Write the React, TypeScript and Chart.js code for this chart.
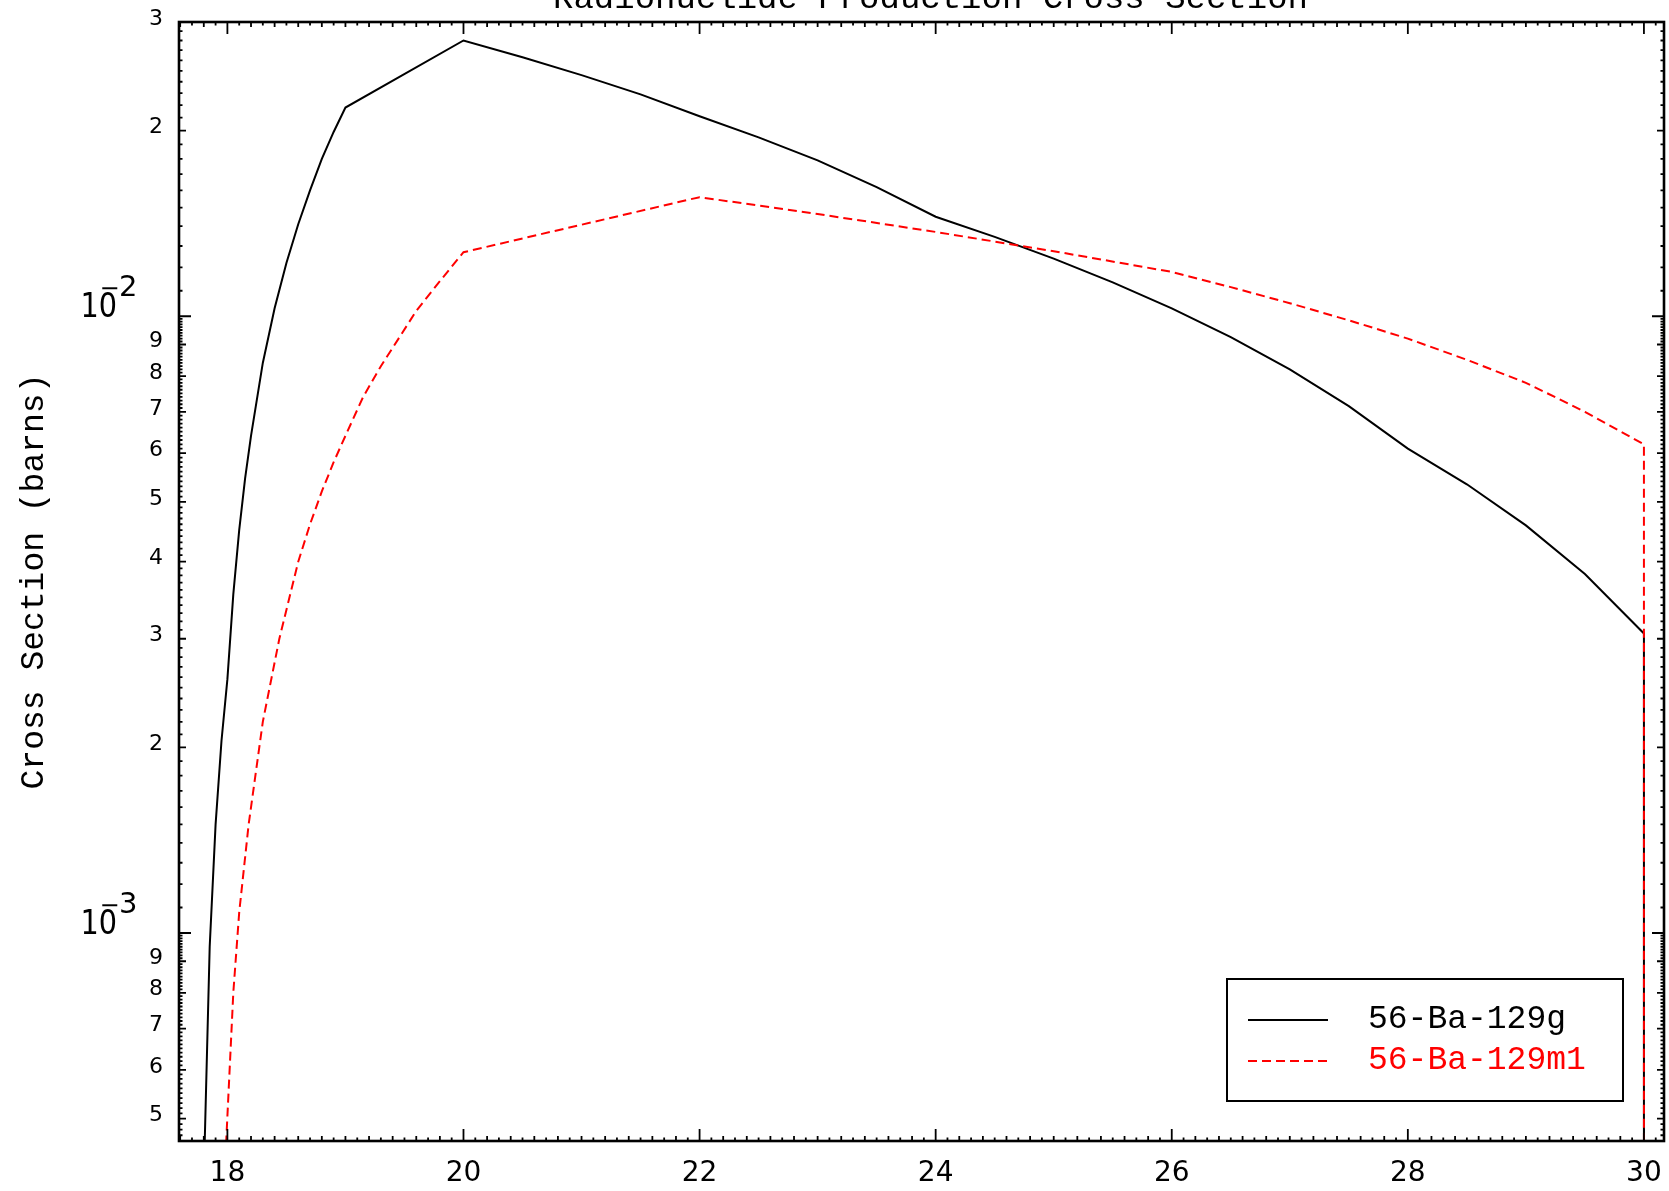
import React, { useEffect, useRef } from "react";
import { Chart, registerables } from "chart.js";

Chart.register(...registerables);

const CANVAS_W = 1669;
const CANVAS_H = 1191;

const chartTitle = "Radionuclide Production Cross Section";
const yAxisTitle = "Cross Section (barns)";
const seriesLabels = ["56-Ba-129g", "56-Ba-129m1"];
const seriesColors = ["#000000", "#ff0000"];

// 56-Ba-129g  (incident energy in MeV, cross section in barns)
const energyG = [17.76, 17.8, 17.85, 17.9, 17.95, 18.0, 18.05, 18.1, 18.15, 18.2, 18.3, 18.4, 18.5, 18.6, 18.7, 18.8, 18.9, 19.0, 20.0, 20.5, 21.0, 21.5, 22.0, 22.5, 23.0, 23.5, 24.0, 24.5, 25.0, 25.5, 26.0, 26.5, 27.0, 27.5, 28.0, 28.5, 29.0, 29.5, 30.0, 30.0];
const sigmaG = [0.00001, 0.0004, 0.00095, 0.0015, 0.00205, 0.00258, 0.00354, 0.0045, 0.00546, 0.0064, 0.0084, 0.0103, 0.0122, 0.0141, 0.016, 0.018, 0.0199, 0.0218, 0.028, 0.0263, 0.0246, 0.0229, 0.0211, 0.0195, 0.0179, 0.0162, 0.0145, 0.01345, 0.0124, 0.01135, 0.0103, 0.00925, 0.0082, 0.00715, 0.0061, 0.00534, 0.00458, 0.00382, 0.00306, 0.00001];

// 56-Ba-129m1
const energyM = [17.91, 17.99, 18.05, 18.1, 18.18, 18.3, 18.44, 18.6, 18.7, 18.8, 18.9, 19.0, 19.15, 19.3, 19.45, 19.6, 19.8, 20.0, 22.0, 23.0, 24.0, 25.0, 26.0, 26.5, 27.0, 27.5, 28.0, 28.5, 29.0, 29.5, 30.0, 30.0];
const sigmaM = [0.00001, 0.00046, 0.0008, 0.00108, 0.0015, 0.0022, 0.003, 0.004, 0.0046, 0.0052, 0.0058, 0.0064, 0.0074, 0.0083, 0.0092, 0.0102, 0.0114, 0.0127, 0.0156, 0.01465, 0.0137, 0.01275, 0.0118, 0.01115, 0.0105, 0.00985, 0.0092, 0.0085, 0.0078, 0.007, 0.0062, 0.00001];

const xRange = [17.59, 30.17];
const yRange = [4.6e-4, 0.03];
const xLabelValues = [18, 20, 22, 24, 26, 28, 30];

function mantissa(v: number) {
  const e = Math.floor(Math.log10(v) + 1e-9);
  const m = Math.round((v / Math.pow(10, e)) * 10) / 10;
  return { e, m };
}

function buildXTicks(min: number, max: number) {
  const out: { value: number }[] = [];
  for (let k = Math.ceil(min * 10 - 1e-6); k <= Math.floor(max * 10 + 1e-6); k++) {
    out.push({ value: k / 10 });
  }
  return out;
}

function buildYTicks(min: number, max: number) {
  const out: { value: number }[] = [];
  for (let e = Math.floor(Math.log10(min)); e <= Math.ceil(Math.log10(max)); e++) {
    const d = Math.pow(10, e);
    for (let k = 10; k < 100; k++) {
      const v = parseFloat(((k / 10) * d).toPrecision(6));
      if (v >= min * (1 - 1e-9) && v <= max * (1 + 1e-9)) out.push({ value: v });
    }
  }
  return out;
}

const idlPlugin = {
  id: "idlDecor",
  afterDatasetsDraw(chart: any) {
    const { ctx, chartArea: a, scales } = chart;
    const xs = scales.x;
    const ys = scales.y;
    ctx.save();
    ctx.strokeStyle = "#000";
    ctx.lineWidth = 1.8;
    ctx.beginPath();
    for (const t of xs.ticks) {
      const v = t.value;
      const px = xs.getPixelForValue(v);
      if (px < a.left - 0.5 || px > a.right + 0.5) continue;
      const tenth = Math.round(v * 10);
      const len = tenth % 20 === 0 ? 12 : tenth % 2 === 0 ? 5 : 3.5;
      ctx.moveTo(px, a.bottom);
      ctx.lineTo(px, a.bottom - len);
      ctx.moveTo(px, a.top);
      ctx.lineTo(px, a.top + len);
    }
    for (const t of ys.ticks) {
      const v = t.value;
      const py = ys.getPixelForValue(v);
      if (py < a.top - 0.5 || py > a.bottom + 0.5) continue;
      const { m } = mantissa(v);
      const len = m === 1 ? 12 : Number.isInteger(m) ? 7 : 3.5;
      ctx.moveTo(a.left, py);
      ctx.lineTo(a.left + len, py);
      ctx.moveTo(a.right, py);
      ctx.lineTo(a.right - len, py);
    }
    ctx.stroke();
    ctx.lineWidth = 2.6;
    ctx.strokeRect(a.left, a.top, a.right - a.left, a.bottom - a.top);
    ctx.restore();
  },
  afterDraw(chart: any) {
    const { ctx, chartArea: a, scales } = chart;
    const ys = scales.y;
    ctx.save();
    ctx.fillStyle = "#000";
    // decade labels 10^n
    for (const t of ys.ticks) {
      const { e, m } = mantissa(t.value);
      if (m !== 1) continue;
      const T = ys.getPixelForValue(t.value);
      ctx.save();
      ctx.translate(a.left - 62, T + 1);
      ctx.scale(0.87, 1);
      ctx.font = '33px "DejaVu Sans"';
      ctx.textAlign = "right";
      ctx.textBaseline = "alphabetic";
      ctx.fillText("10", 0, 0);
      ctx.restore();
      ctx.font = '24px "DejaVu Sans"';
      ctx.textAlign = "center";
      ctx.textBaseline = "alphabetic";
      if (e < 0) ctx.fillText("\u2212", a.left - 69.5, T - 20);
      ctx.font = '29px "DejaVu Sans"';
      ctx.textAlign = "left";
      ctx.fillText(String(Math.abs(e)), a.left - 60, T - 20);
    }
    // title (mostly above the canvas edge)
    ctx.font = '34px "Liberation Mono"';
    ctx.textAlign = "center";
    ctx.textBaseline = "alphabetic";
    ctx.fillText(chartTitle, (a.left + a.right) / 2 + 9, 8);
    // legend box
    const bx = a.right - 437;
    const by = a.bottom - 162;
    const bw = 396;
    const bh = 122;
    ctx.fillStyle = "#fff";
    ctx.fillRect(bx, by, bw, bh);
    ctx.lineWidth = 2;
    ctx.strokeStyle = "#000";
    ctx.strokeRect(bx, by, bw, bh);
    chart.data.datasets.forEach((ds: any, i: number) => {
      const ly = by + 41 + i * 41;
      ctx.save();
      ctx.strokeStyle = ds.borderColor;
      ctx.lineWidth = ds.borderWidth;
      ctx.setLineDash(ds.borderDash || []);
      ctx.beginPath();
      ctx.moveTo(bx + 21, ly);
      ctx.lineTo(bx + 101, ly);
      ctx.stroke();
      ctx.restore();
      ctx.fillStyle = ds.borderColor;
      ctx.font = '33px "Liberation Mono"';
      ctx.textAlign = "left";
      ctx.textBaseline = "alphabetic";
      ctx.fillText(ds.label, bx + 141, ly + 8);
    });
    ctx.restore();
  },
};

export default function App() {
  const ref = useRef<HTMLCanvasElement | null>(null);
  useEffect(() => {
    if (!ref.current) return;
    const chart = new Chart(ref.current, {
      type: "line",
      data: {
        datasets: [
          {
            label: seriesLabels[0],
            data: energyG.map((x, i) => ({ x, y: sigmaG[i] })),
            borderColor: seriesColors[0],
            borderWidth: 2,
            pointRadius: 0,
            fill: false,
            order: 1,
          },
          {
            label: seriesLabels[1],
            data: energyM.map((x, i) => ({ x, y: sigmaM[i] })),
            borderColor: seriesColors[1],
            borderWidth: 2,
            borderDash: [9, 5],
            pointRadius: 0,
            fill: false,
            order: 0,
          },
        ],
      },
      options: {
        animation: false,
        responsive: false,
        maintainAspectRatio: false,
        layout: { padding: { left: 0, top: 22, right: 5, bottom: 0 } },
        elements: { line: { tension: 0 }, point: { radius: 0 } },
        plugins: {
          legend: { display: false },
          title: { display: false },
          tooltip: { enabled: false },
        },
        scales: {
          x: {
            type: "linear",
            min: xRange[0],
            max: xRange[1],
            afterBuildTicks: (s: any) => {
              s.ticks = buildXTicks(s.min, s.max);
            },
            afterFit: (s: any) => {
              s.height = CANVAS_H - 1141;
              s.paddingLeft = 0;
              s.paddingRight = 0;
            },
            grid: { display: false, drawTicks: false },
            border: { display: false },
            ticks: {
              autoSkip: false,
              maxRotation: 0,
              minRotation: 0,
              padding: 16,
              color: "#000",
              font: { family: "DejaVu Sans", size: 28 },
              callback: (value: any) => {
                const r = Math.round(Number(value) * 10) / 10;
                return xLabelValues.includes(r) ? String(r) : "";
              },
            },
          },
          y: {
            type: "logarithmic",
            min: yRange[0],
            max: yRange[1],
            afterBuildTicks: (s: any) => {
              s.ticks = buildYTicks(s.min, s.max);
            },
            afterFit: (s: any) => {
              s.width = 179;
              s.paddingTop = 0;
              s.paddingBottom = 0;
            },
            grid: { display: false, drawTicks: false },
            border: { display: false },
            ticks: {
              autoSkip: false,
              padding: 16,
              labelOffset: -3,
              color: "#000",
              font: { family: "DejaVu Sans", size: 22 },
              callback: (value: any) => {
                const { m } = mantissa(Number(value));
                return Number.isInteger(m) && m !== 1 ? String(m) : "";
              },
            },
            title: {
              display: true,
              text: yAxisTitle,
              color: "#000",
              font: { family: "Liberation Mono", size: 33, weight: "normal" },
              padding: { top: 14, bottom: 0 },
            },
          },
        },
      } as any,
      plugins: [idlPlugin],
    });
    return () => chart.destroy();
  }, []);
  return (
    <div style={{ position: "absolute", left: 0, top: 0, width: CANVAS_W, height: CANVAS_H, background: "#fff" }}>
      <canvas ref={ref} width={CANVAS_W} height={CANVAS_H} style={{ display: "block", width: CANVAS_W, height: CANVAS_H }} />
    </div>
  );
}
